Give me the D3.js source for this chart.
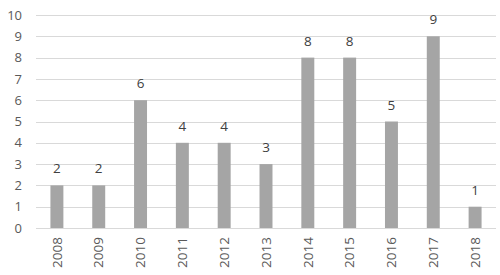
<!DOCTYPE html>
<html>
<head>
<meta charset="utf-8">
<script src="https://cdn.jsdelivr.net/npm/d3@7"></script>
<style>
  body { margin: 0; background: #fff; }
  svg { display: block; }
  text { font-family: "Open Sans", "Liberation Sans", sans-serif; }
</style>
</head>
<body>
<svg id="chart" width="500" height="275"></svg>
<script>
// data
var years = ["2008", "2009", "2010", "2011", "2012", "2013", "2014", "2015", "2016", "2017", "2018"];
var counts = [2, 2, 6, 4, 4, 3, 8, 8, 5, 9, 1];
var yTicks = [0, 1, 2, 3, 4, 5, 6, 7, 8, 9, 10];

var translate = function(x, y) { return "translate(" + x + "," + y + ")"; };

var margin = { top: 15, right: 4, bottom: 47, left: 36 };
var svg = d3.select("#chart");
var plotWidth = 500 - margin.left - margin.right;
var plotHeight = 275 - margin.top - margin.bottom;

var data = years.map(function(d, i) { return { year: d, value: counts[i] }; });

var x = d3.scaleBand()
  .domain(years)
  .range([0, plotWidth])
  .paddingInner(0.69)
  .paddingOuter(0.345);

var y = d3.scaleLinear()
  .domain([0, 10])
  .range([plotHeight, 0]);

var plot = svg.append("g").attr("transform", translate(margin.left, margin.top));

// gridlines
plot.selectAll(".grid")
  .data(yTicks)
  .enter().append("line")
  .attr("class", "grid")
  .attr("x1", 0)
  .attr("x2", plotWidth)
  .attr("y1", function(d) { return Math.round(y(d)) + 0.5; })
  .attr("y2", function(d) { return Math.round(y(d)) + 0.5; })
  .attr("stroke", "#d9d9d9")
  .attr("stroke-width", 1);

// y labels
var yAxis = d3.axisLeft(y).tickValues(yTicks).tickSize(0).tickPadding(14);
var gy = plot.append("g").call(yAxis);
gy.select(".domain").remove();
gy.selectAll("text")
  .style("font-size", "13px")
  .style("font-family", "'Open Sans', 'Liberation Sans', sans-serif")
  .attr("fill", "#595959");

// bars
plot.selectAll(".bar")
  .data(data)
  .enter().append("rect")
  .attr("class", "bar")
  .attr("x", function(d) { return x(d.year); })
  .attr("y", function(d) { return y(d.value); })
  .attr("width", x.bandwidth())
  .attr("height", function(d) { return plotHeight - y(d.value); })
  .attr("fill", "#a5a5a5");

// value labels
plot.selectAll(".val")
  .data(data)
  .enter().append("text")
  .attr("class", "val")
  .attr("x", function(d) { return x(d.year) + x.bandwidth() / 2; })
  .attr("y", function(d) { return y(d.value) - 12; })
  .attr("text-anchor", "middle")
  .style("font-size", "13.5px")
  .attr("fill", "#404040")
  .text(function(d) { return d.value; });

// x labels
var xAxis = d3.axisBottom(x).tickSize(0).tickPadding(0);
var gx = plot.append("g").attr("transform", translate(0, plotHeight)).call(xAxis);
gx.select(".domain").remove();
gx.selectAll("text")
  .style("font-size", "13.5px")
  .style("font-family", "'Open Sans', 'Liberation Sans', sans-serif")
  .attr("fill", "#595959")
  .attr("text-anchor", "end")
  .attr("transform", "rotate(-90)")
  .attr("x", -9)
  .attr("y", 0)
  .attr("dy", "0.35em");
</script>
</body>
</html>
